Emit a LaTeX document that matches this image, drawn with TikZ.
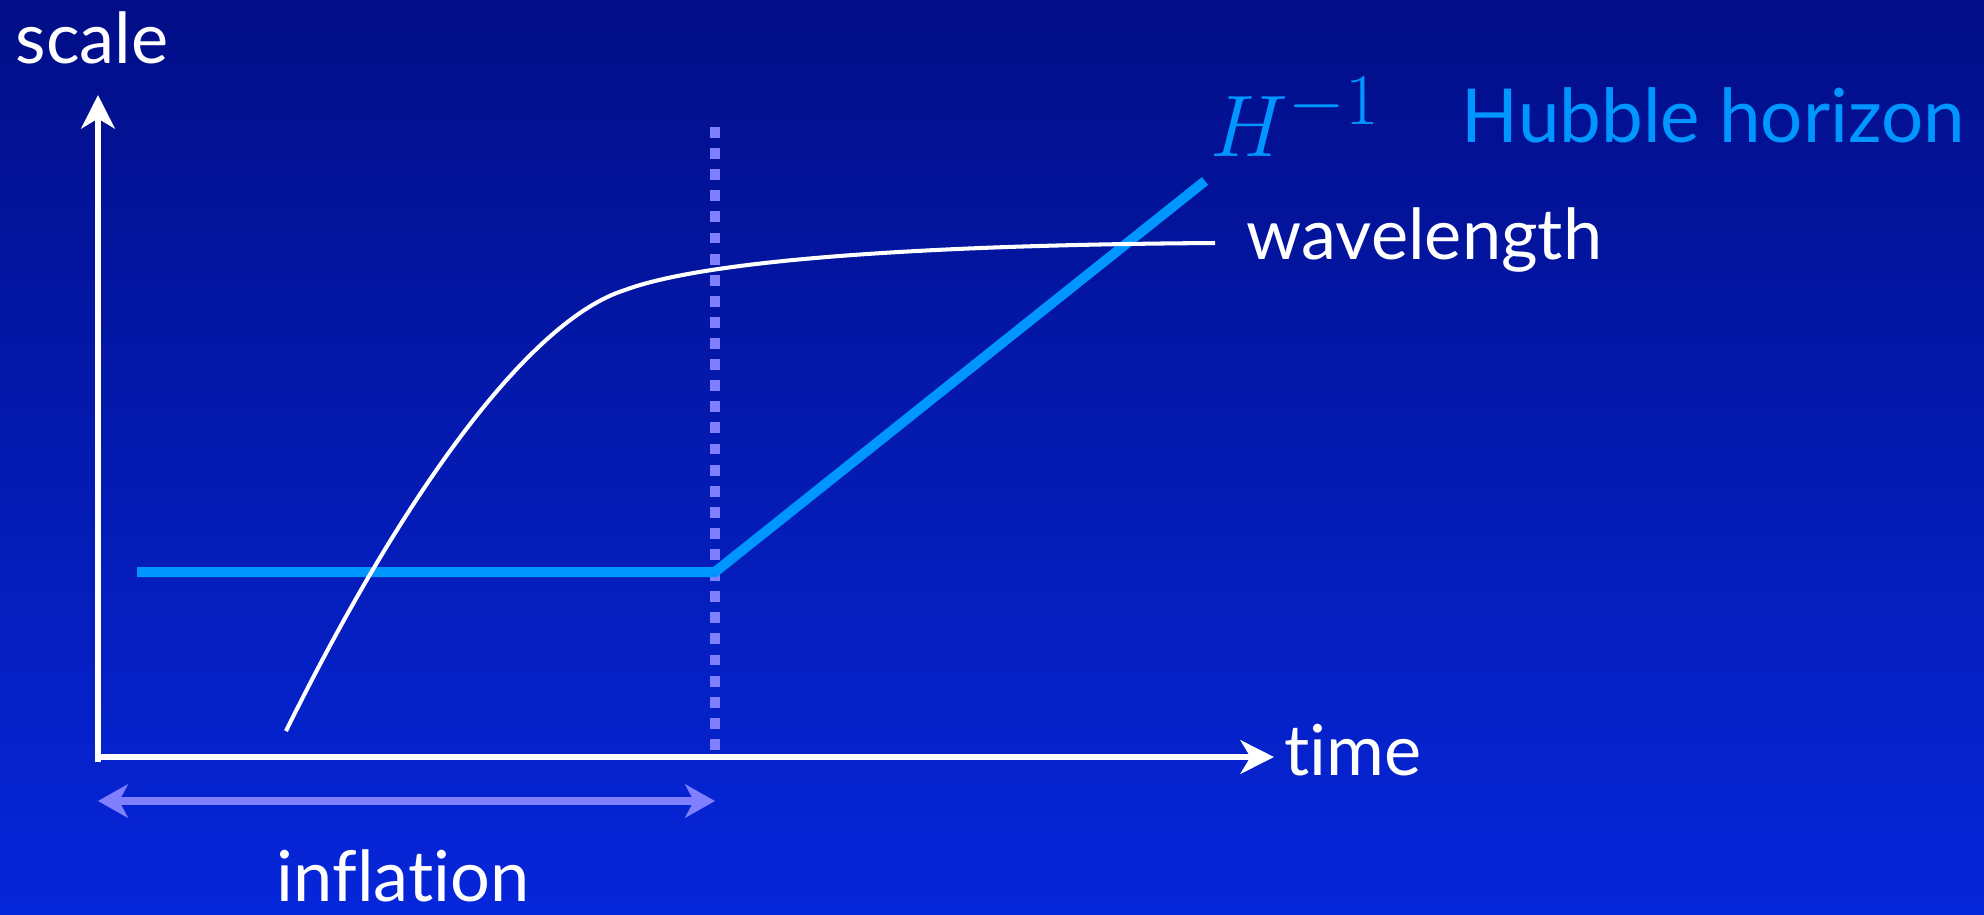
\documentclass[tikz,border=0pt]{standalone}
\usepackage{fontspec}
\setmainfont{Lato}[Ligatures={NoCommon,NoRequired,NoContextual}]
\usetikzlibrary{arrows.meta}
\definecolor{bgtop}{RGB}{2,14,135}
\definecolor{bgbot}{RGB}{6,38,218}
\definecolor{hubble}{RGB}{0,150,255}
\definecolor{lav}{RGB}{128,128,255}
\tikzset{
  lbl/.style={anchor=base west,inner sep=0pt,text=white,font=\fontsize{20}{24}\selectfont},
  axisline/.style={draw=white,line width=1.7pt,-{Stealth[length=9.5pt,width=9.5pt,inset=2.8pt]}},
  hubbleline/.style={draw=hubble,line width=2.85pt},
  waveline/.style={draw=white,line width=1.15pt},
  dotline/.style={draw=lav,line width=3.1pt,dash pattern=on 3.1pt off 2.9pt},
  inflarrow/.style={draw=lav,fill=lav,line width=2.3pt,{Stealth[length=8.5pt,width=9.5pt,inset=2.5pt]}-{Stealth[length=8.5pt,width=9.5pt,inset=2.5pt]}}
}
\begin{document}
\begin{tikzpicture}[x=0.01cm,y=-0.01cm]
\shade[top color=bgtop,bottom color=bgbot] (0,0) rectangle (1984,914);
\useasboundingbox (0,0) rectangle (1984,914);
% coordinates
\coordinate (origin) at (98,760);
\coordinate (ytip) at (98,95);
\coordinate (xtip) at (1274,757);
\coordinate (dtop) at (715,127);
\coordinate (dbot) at (715,754);
\coordinate (hstart) at (137,572);
\coordinate (hknee) at (715,572);
\coordinate (hend) at (1205,181);
\coordinate (wstart) at (286,731);
\coordinate (wknee) at (625,290);
\coordinate (wend) at (1215,243);
\coordinate (ileft) at (98,801);
\coordinate (iright) at (715,801);
% lines
\draw[dotline] (dtop) -- (dbot);
\draw[axisline] ([yshift=-0.6pt]origin) -- (ytip);
\draw[axisline] (98,757) -- (xtip);
\draw[hubbleline] (hstart) -- (hknee) -- (hend);
\draw[waveline] (wstart) .. controls (405,490) and (530,320) .. (wknee) .. controls (700,262) and (900,245) .. (wend);
\draw[inflarrow] (ileft) -- (iright);
% labels
\node[lbl] (scale) at (15,63) {scale};
\node[lbl] (time) at (1284,775) {time};
\node[lbl] (wave) at (1246,259) {wavelength};
\node[lbl,text=hubble,font=\fontsize{27.5}{32}\selectfont] (Hinv) at (1210,156) {$H^{-1}$};
\node[lbl,text=hubble,font=\fontsize{21.2}{25}\selectfont] (hub) at (1461,142) {Hubble horizon};
\node[lbl] (infl) at (276,901) {inflation};
\end{tikzpicture}
\end{document}
